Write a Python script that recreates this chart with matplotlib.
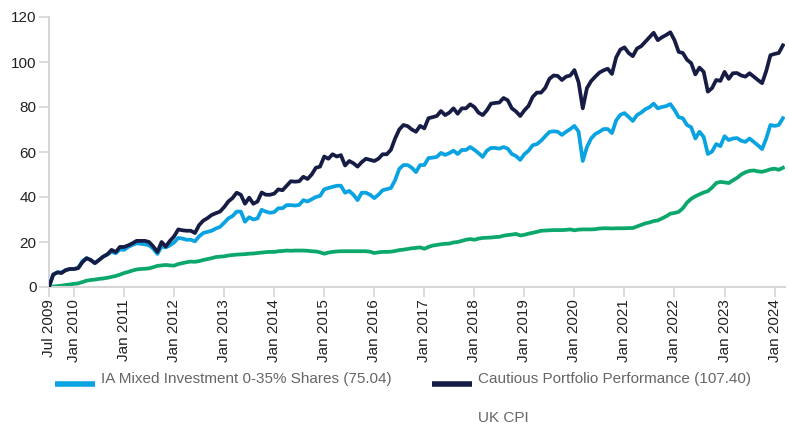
import matplotlib
matplotlib.use("Agg")
import matplotlib.pyplot as plt
from matplotlib.lines import Line2D

plt.rcParams['font.family'] = ['Liberation Sans', 'DejaVu Sans']

# Monthly data, Jul 2009 (index 0) to Mar 2024 (index 176)
cautious = [
    0, 5.5, 6.5, 6.2, 7.5, 8, 8, 8.4, 11, 12.8, 12, 10.6,
    12, 13.5, 14.5, 16.5, 15.5, 17.8, 17.8, 18.5, 19.4, 20.5, 20.5, 20.5,
    20, 18, 15.6, 20, 18, 20.5, 22.5, 25.6, 25.2, 25, 25, 24,
    27.5, 29.5, 30.6, 32, 32.8, 33.5, 35.5, 38, 39.5, 41.9, 41, 37,
    39.7, 37, 38, 42, 41, 41, 41.5, 43.4, 43, 45, 47, 46.8,
    47, 49, 48, 50, 53, 53.5, 58, 57, 59, 58, 58.6, 54,
    56, 55, 53.5, 55.5, 57, 56.5, 56, 57, 59, 59, 61, 66,
    70, 72, 71.5, 70, 69, 71.6, 70.5, 75, 75.5, 76, 78.2, 76.4,
    77.5, 79.4, 77, 79.4, 79.4, 81.2, 80, 77.5, 76.4, 78.5, 81.5, 81.8,
    82, 84, 83, 79.4, 78, 76, 78.5, 80.5, 84.5, 86.4, 86.4, 88.5,
    92.5, 94, 93.8, 92, 93.5, 94, 96.4, 91, 79.4, 88.4, 91.5, 93.5,
    95.3, 96.3, 97, 94.7, 102, 105.5, 106.5, 104, 102.6, 106, 107, 109,
    111, 113, 109.7, 111, 112, 113.2, 109.7, 104.5, 104, 101, 99.5, 94.5,
    97.5, 95.6, 86.8, 88.4, 92, 91.6, 95.6, 92.5, 95, 95.1, 94, 93.5,
    95, 93.5, 92, 90.6, 96, 103, 103.6, 104, 107.4,
]
ia_mixed = [
    0, 5.5, 6.5, 6.5, 7.5, 8, 8, 8.5, 11.5, 12.8, 12, 10.6,
    12, 13.5, 14.5, 15.6, 15, 16.7, 16.5, 17.8, 18.7, 19.4, 19.2, 19,
    18.5, 17, 14.7, 18, 17.6, 18.5, 19.8, 21.8, 21.5, 21, 21, 20.3,
    22.5, 24, 24.5, 25, 26, 26.7, 28.5, 30.5, 31.5, 33.5, 33.5, 29,
    31, 30, 30.5, 34.3, 33.5, 33, 33.3, 35, 35, 36.4, 36.4, 36.2,
    36.5, 38.6, 38, 39, 40, 40.5, 43.4, 44, 44.5, 45, 45, 41.9,
    42.7, 41, 38.6, 41.9, 41.9, 41, 39.5, 41, 43, 43.5, 44, 47.5,
    52.5, 54.2, 54.2, 53, 51.1, 54.2, 54.2, 57.3, 57.5, 57.8, 59.6, 58.7,
    59.5, 60.6, 59.1, 60.9, 60.9, 62.2, 61, 59.5, 57.8, 60.6, 61.8, 61.8,
    61.5, 62.2, 61.5, 59.1, 58.2, 56.5, 59, 60.6, 63, 63.5, 65, 67,
    68.9, 69.2, 69, 67.6, 69, 70.2, 71.6, 69, 56, 62.2, 66, 68,
    69, 70.2, 70.2, 68.4, 74, 76.5, 77.3, 75.6, 73.8, 76.4, 77.5, 79,
    79.9, 81.5, 79.4, 80, 80.4, 81.3, 78.7, 75.5, 75, 72, 71, 66,
    69, 66.7, 59.1, 60.2, 63.5, 62.6, 67, 65.3, 66, 66.2, 65, 64.5,
    66, 64.5, 63, 61.3, 66, 72, 71.6, 72, 75.04,
]
uk_cpi = [
    0, 0.2, 0.4, 0.6, 0.9, 1.1, 1.4, 1.6, 2.2, 2.8, 3.1, 3.3,
    3.6, 3.8, 4.1, 4.5, 4.9, 5.5, 6.2, 6.7, 7.3, 7.8, 8, 8.1,
    8.3, 8.8, 9.4, 9.6, 9.8, 9.6, 9.5, 10.2, 10.6, 11, 11.3, 11.2,
    11.5, 12, 12.4, 12.8, 13.3, 13.5, 13.6, 14, 14.2, 14.4, 14.5, 14.6,
    14.8, 14.9, 15.1, 15.3, 15.5, 15.6, 15.6, 15.9, 16, 16.2, 16.1, 16.2,
    16.2, 16.2, 16.1, 15.9, 15.8, 15.4, 14.8, 15.3, 15.6, 15.8, 15.9, 15.9,
    15.9, 15.9, 15.9, 15.9, 15.9, 15.7, 15.1, 15.4, 15.6, 15.6, 15.7, 16,
    16.4, 16.6, 16.9, 17.2, 17.4, 17.6, 17, 17.8, 18.4, 18.7, 19, 19.2,
    19.3, 19.8, 20, 20.5, 21, 21.3, 21, 21.5, 21.8, 21.9, 22, 22.2,
    22.3, 22.8, 23.1, 23.3, 23.6, 22.9, 23.2, 23.7, 24.1, 24.5, 25, 25.1,
    25.2, 25.3, 25.3, 25.3, 25.4, 25.6, 25.2, 25.5, 25.6, 25.6, 25.6, 25.7,
    26, 26.1, 26.1, 26, 26.1, 26.1, 26.1, 26.2, 26.2, 26.9, 27.6, 28.3,
    28.7, 29.3, 29.6, 30.5, 31.4, 32.6, 32.9, 33.4, 35, 37.5, 39.2, 40.3,
    41.2, 42, 42.6, 44.2, 46.2, 46.7, 46.5, 46.2, 47.4, 48.5, 50, 51,
    51.6, 51.8, 51.4, 51.2, 51.7, 52.3, 52.6, 52.1, 53,
]

tick_months = [0, 6, 18, 30, 42, 54, 66, 78, 90, 102, 114, 126, 138, 150, 162, 174]
tick_labels = ["Jul 2009", "Jan 2010", "Jan 2011", "Jan 2012", "Jan 2013", "Jan 2014",
               "Jan 2015", "Jan 2016", "Jan 2017", "Jan 2018", "Jan 2019", "Jan 2020",
               "Jan 2021", "Jan 2022", "Jan 2023", "Jan 2024"]
y_ticks = [0, 20, 40, 60, 80, 100, 120]

series_names = ["IA Mixed Investment 0-35% Shares (75.04)",
                "Cautious Portfolio Performance (107.40)",
                "UK CPI"]

c_blue = "#0aa3e2"
c_navy = "#161c44"
c_green = "#0ba76b"
c_axis = "#d6d6d6"

fig = plt.figure(figsize=(7.89, 4.32), dpi=100)
ax = fig.add_axes([49/789, 1-287/432, 736/789, 270/432])

months = list(range(len(cautious)))
lw = 2.7
ax.plot(months, uk_cpi, color=c_green, lw=lw, solid_joinstyle='round', zorder=2)
ax.plot(months, ia_mixed, color=c_blue, lw=lw, solid_joinstyle='round', zorder=3)
ax.plot(months, cautious, color=c_navy, lw=lw, solid_joinstyle='round', zorder=4)

ax.set_xlim(0, 176.5)
ax.set_ylim(0, 120)
ax.set_yticks(y_ticks)
ax.set_yticklabels([str(v) for v in y_ticks], fontsize=11, color="#222222")
ax.set_xticks(tick_months)
ax.set_xticklabels(tick_labels, rotation=90, fontsize=11, color="#222222", va='top')

for s in ['top', 'right']:
    ax.spines[s].set_visible(False)
for s in ['left', 'bottom']:
    ax.spines[s].set_color(c_axis)
    ax.spines[s].set_linewidth(1.5)
ax.tick_params(axis='both', color=c_axis, width=1.2, length=7, pad=2)

# Legend drawn manually
fw, fh = 789, 432
def fx(px):
    return px / fw
def fy(py):
    return 1 - py / fh

fig.add_artist(Line2D([fx(55), fx(95)], [fy(384), fy(384)], color=c_blue, lw=4, solid_capstyle='butt'))
fig.text(fx(101), fy(379), series_names[0], fontsize=11, color="#666666", va='center', ha='left')
fig.add_artist(Line2D([fx(432), fx(472)], [fy(384), fy(384)], color=c_navy, lw=4, solid_capstyle='butt'))
fig.text(fx(478), fy(379), series_names[1], fontsize=11, color="#666666", va='center', ha='left')
fig.text(fx(478), fy(418), series_names[2], fontsize=11, color="#666666", va='center', ha='left')

fig.savefig("out.png", dpi=100)
